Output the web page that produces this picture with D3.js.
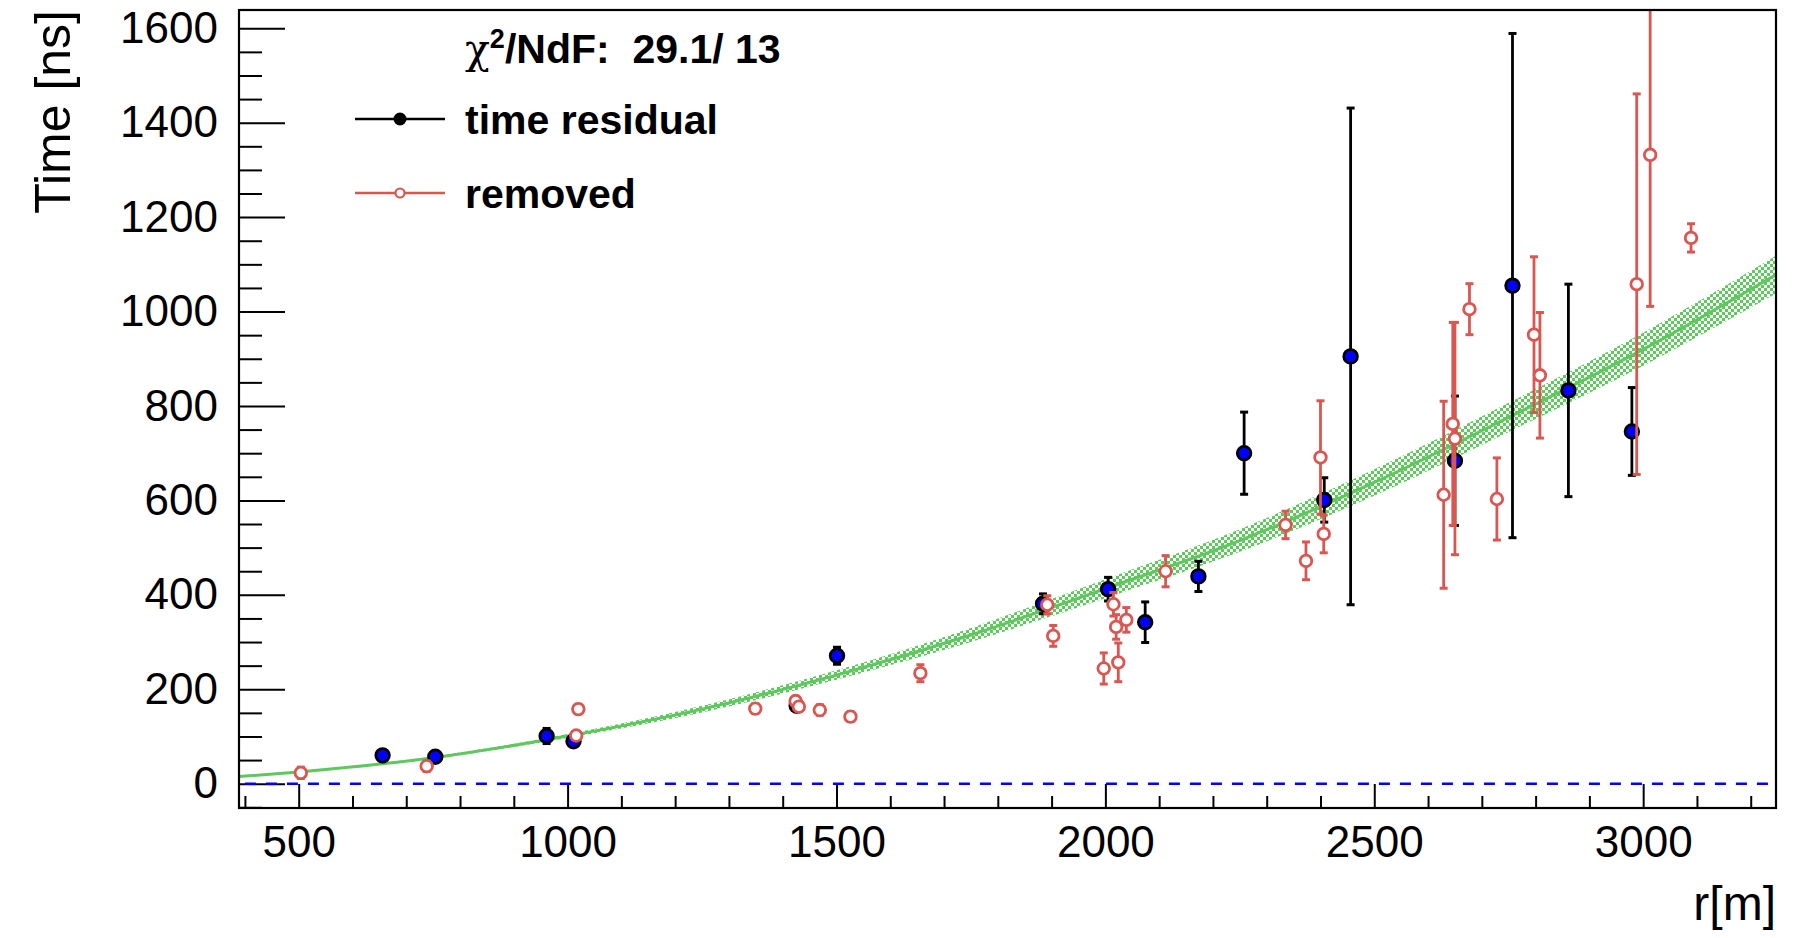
<!DOCTYPE html>
<html>
<head>
<meta charset="utf-8">
<script src="https://cdn.jsdelivr.net/npm/d3@7"></script>
<style>
  body { margin: 0; background: #fff; }
  text { font-family: "Liberation Sans", Arial, Helvetica, sans-serif; }
</style>
</head>
<body>
<div id="plot"></div>
<script>
// time residual points (kept in the fit)
const resR   = [656, 754, 961, 1011, 1426, 1501, 1884, 2005, 2074, 2173, 2258, 2407, 2456, 2650, 2757, 2861, 2979];
const resT   = [60, 57, 101, 90, 165, 271, 381, 412, 342, 439, 700, 601, 905, 684, 1055, 833, 746];
const resErr = [8, 8, 16, 10, 10, 18, 21, 25, 43, 32, 87, 47, 526, 137, 534, 225, 93];

// removed points
const remR   = [504, 738, 1016, 1020, 1349, 1424, 1430, 1469, 1526, 1656, 1892, 1903, 1997, 2015, 2020, 2024, 2039, 2112, 2335, 2373, 2400, 2406, 2629, 2646, 2650, 2677, 2728, 2797, 2808, 2988, 3013, 3089];
const remT   = [23, 37, 102, 158, 159, 175, 163, 156, 142, 234, 379, 313, 244, 380, 332, 257, 347, 450, 548, 472, 691, 529, 612, 762, 731, 1005, 603, 951, 865, 1058, 1332, 1156];
const remErr = [12, 11, 8, 10, 10, 10, 10, 11, 10, 18, 19, 22, 33, 25, 26, 41, 26, 33, 29, 40, 120, 40, 198, 215, 246, 54, 87, 165, 133, 403, 321, 30];

// fitted curve and its error band (half width)
const fitR    = [389, 500, 750, 1000, 1250, 1500, 1750, 2000, 2250, 2500, 2750, 3000, 3247];
const fitT    = [15, 25, 55, 101, 158, 230, 315, 413, 515, 638, 776, 920, 1078];
const fitHalf = [1, 1.5, 2.5, 4, 7, 10, 15, 20, 24, 28, 31, 35, 40];

const xTickValues = [500, 1000, 1500, 2000, 2500, 3000];
const yTickValues = [0, 200, 400, 600, 800, 1000, 1200, 1400, 1600];

const chi2Label = "29.1/ 13";

const width = 1794;
const height = 938;
const padLeft = 239, padRight = 1776, padTop = 10, padBottom = 808;

const redColor = "#da5651";

const svg = d3.select("#plot").append("svg")
  .attr("width", width)
  .attr("height", height)
  .style("display", "block")
  .style("background", "#fff");

const defs = svg.append("defs");
defs.append("clipPath").attr("id", "frame")
  .append("rect")
  .attr("x", padLeft).attr("y", padTop)
  .attr("width", padRight - padLeft).attr("height", padBottom - padTop);

// dotted fill for the fit band
const hatch = defs.append("pattern")
  .attr("id", "band")
  .attr("patternUnits", "userSpaceOnUse")
  .attr("width", 6).attr("height", 6);
hatch.append("rect").attr("x", 0).attr("y", 0).attr("width", 3).attr("height", 3).attr("fill", "#5ccb5c");
hatch.append("rect").attr("x", 3).attr("y", 3).attr("width", 3).attr("height", 3).attr("fill", "#5ccb5c");

// Scale and Axis
const x = d3.scaleLinear().domain([389, 3247]).range([padLeft, padRight]);
const y = d3.scaleLinear().domain([-51.5, 1638.7]).range([padBottom, padTop]);

const xMinor = d3.range(400, 3247, 100).filter(v => v % 500 !== 0);
const yMinor = d3.range(-50, 1639, 50).filter(v => v % 200 !== 0);

svg.append("g")
  .attr("transform", `translate(0,${padBottom})`)
  .call(d3.axisBottom(x).tickValues(xMinor).tickSize(-12).tickSizeOuter(0).tickFormat(""))
  .call(g => g.select(".domain").remove());

svg.append("g")
  .attr("transform", `translate(0,${padBottom})`)
  .call(d3.axisBottom(x).tickValues(xTickValues).tickSize(-24).tickSizeOuter(0).tickPadding(17.5).tickFormat(d3.format("d")))
  .call(g => g.select(".domain").remove());

svg.append("g")
  .attr("transform", `translate(${padLeft},0)`)
  .call(d3.axisLeft(y).tickValues(yMinor).tickSize(-23).tickSizeOuter(0).tickFormat(""))
  .call(g => g.select(".domain").remove());

svg.append("g")
  .attr("transform", `translate(${padLeft},0)`)
  .call(d3.axisLeft(y).tickValues(yTickValues).tickSize(-46).tickSizeOuter(0).tickPadding(21).tickFormat(d3.format("d")))
  .call(g => g.select(".domain").remove());

svg.selectAll(".tick line").attr("stroke", "#000").attr("stroke-width", 2);
svg.selectAll(".tick text")
  .attr("fill", "#000")
  .style("font-size", "44px")
  .style("font-family", "'Liberation Sans', Arial, sans-serif");

// zero line
const plot = svg.append("g").attr("clip-path", "url(#frame)");

plot.append("line")
  .attr("x1", x(400)).attr("x2", x(3247))
  .attr("y1", y(0)).attr("y2", y(0))
  .attr("stroke", "#0000ff")
  .attr("stroke-width", 2.4)
  .attr("stroke-dasharray", "11,10");

// fit band and line
const fitData = fitR.map((r, i) => ({ r: r, t: fitT[i], h: fitHalf[i] }));

plot.append("path")
  .datum(fitData)
  .attr("d", d3.area()
    .x(d => x(d.r))
    .y0(d => y(d.t - d.h))
    .y1(d => y(d.t + d.h))
    .curve(d3.curveMonotoneX))
  .attr("fill", "url(#band)");

plot.append("path")
  .datum(fitData)
  .attr("d", d3.line().x(d => x(d.r)).y(d => y(d.t)).curve(d3.curveMonotoneX))
  .attr("fill", "none")
  .attr("stroke", "#5ec85e")
  .attr("stroke-width", 3);

// error bars + markers
function drawPoints(rs, ts, es, color, fill, radius, cls) {
  const data = rs.map((r, i) => ({ r: r, t: ts[i], e: es[i] }));
  const g = plot.append("g").attr("class", cls);

  g.selectAll("line.bar")
    .data(data).enter().append("line")
    .attr("class", "bar")
    .attr("x1", d => x(d.r)).attr("x2", d => x(d.r))
    .attr("y1", d => y(d.t - d.e)).attr("y2", d => y(d.t + d.e))
    .attr("stroke", color).attr("stroke-width", 2.8);

  g.selectAll("line.capHi")
    .data(data).enter().append("line")
    .attr("class", "capHi")
    .attr("x1", d => x(d.r) - 4).attr("x2", d => x(d.r) + 4)
    .attr("y1", d => y(d.t + d.e)).attr("y2", d => y(d.t + d.e))
    .attr("stroke", color).attr("stroke-width", 3);

  g.selectAll("line.capLo")
    .data(data).enter().append("line")
    .attr("class", "capLo")
    .attr("x1", d => x(d.r) - 4).attr("x2", d => x(d.r) + 4)
    .attr("y1", d => y(d.t - d.e)).attr("y2", d => y(d.t - d.e))
    .attr("stroke", color).attr("stroke-width", 3);

  g.selectAll("circle")
    .data(data).enter().append("circle")
    .attr("cx", d => x(d.r))
    .attr("cy", d => y(d.t))
    .attr("r", radius)
    .attr("fill", fill)
    .attr("stroke", color)
    .attr("stroke-width", 2.8);
}

drawPoints(resR, resT, resErr, "#000", "#0000ff", 6.8, "residual");
drawPoints(remR, remT, remErr, redColor, "#fff", 5.8, "removed");

// frame
svg.append("rect")
  .attr("x", padLeft).attr("y", padTop)
  .attr("width", padRight - padLeft).attr("height", padBottom - padTop)
  .attr("fill", "none")
  .attr("stroke", "#000")
  .attr("stroke-width", 2.2);

// axis titles
svg.append("text")
  .attr("transform", `translate(70,${padTop})rotate(-90)`)
  .attr("text-anchor", "end")
  .style("font-size", "50px")
  .text("Time [ns]");

svg.append("text")
  .attr("x", padRight).attr("y", 920)
  .attr("text-anchor", "end")
  .style("font-size", "48px")
  .text("r[m]");

// legend
const chi = svg.append("text")
  .attr("x", 465).attr("y", 63)
  .style("font-size", "41px")
  .style("font-weight", "bold")
  .style("white-space", "pre");
chi.append("tspan").style("font-weight", "normal").style("font-family", "'DejaVu Serif', serif").text("χ");
chi.append("tspan").attr("dy", -15).style("font-size", "27px").text("2");
chi.append("tspan").attr("dy", 15).text("/NdF:  " + chi2Label);

svg.append("line").attr("x1", 355).attr("x2", 445).attr("y1", 119).attr("y2", 119)
  .attr("stroke", "#000").attr("stroke-width", 2.4);
svg.append("circle").attr("cx", 400).attr("cy", 119).attr("r", 6.5).attr("fill", "#000");
svg.append("text").attr("x", 465).attr("y", 134)
  .style("font-size", "41px").style("font-weight", "bold")
  .text("time residual");

svg.append("line").attr("x1", 355).attr("x2", 445).attr("y1", 193).attr("y2", 193)
  .attr("stroke", redColor).attr("stroke-width", 2.4);
svg.append("circle").attr("cx", 400).attr("cy", 193).attr("r", 4.5)
  .attr("fill", "#fff").attr("stroke", redColor).attr("stroke-width", 2.2);
svg.append("text").attr("x", 465).attr("y", 208)
  .style("font-size", "41px").style("font-weight", "bold")
  .text("removed");
</script>
</body>
</html>
